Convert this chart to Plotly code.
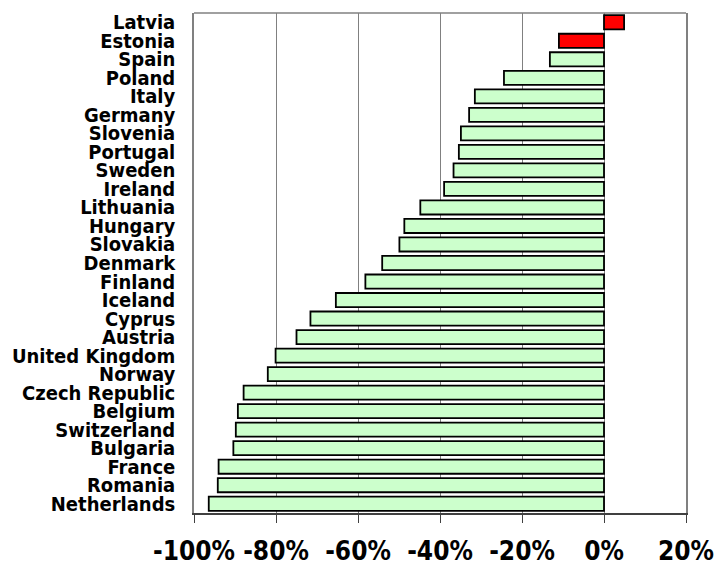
import plotly.graph_objects as go

# Change in value per country, top to bottom
countries = [
    "Latvia", "Estonia", "Spain", "Poland", "Italy", "Germany", "Slovenia",
    "Portugal", "Sweden", "Ireland", "Lithuania", "Hungary", "Slovakia",
    "Denmark", "Finland", "Iceland", "Cyprus", "Austria", "United Kingdom",
    "Norway", "Czech Republic", "Belgium", "Switzerland", "Bulgaria",
    "France", "Romania", "Netherlands",
]
changes = [
    4.9, -11.0, -13.2, -24.4, -31.5, -32.9, -34.9,
    -35.4, -36.7, -39.0, -44.8, -48.7, -49.9,
    -54.1, -58.2, -65.4, -71.6, -75.0, -80.1,
    -82.0, -87.9, -89.3, -89.8, -90.4,
    -94.0, -94.2, -96.4,
]
highlighted = ["Latvia", "Estonia"]

x_ticks = [-100, -80, -60, -40, -20, 0, 20]
x_tick_text = ["-100%", "-80%", "-60%", "-40%", "-20%", "0%", "20%"]

bar_colors = ["#FF0000" if c in highlighted else "#CCFFCC" for c in countries]

font_family = "DejaVu Sans Condensed, DejaVu Sans, sans-serif"

fig = go.Figure(
    go.Bar(
        x=changes,
        y=countries,
        orientation="h",
        marker=dict(color=bar_colors, line=dict(color="#000000", width=1.8)),
        hoverinfo="x+y",
    )
)

fig.update_layout(
    width=717,
    height=562,
    margin=dict(l=194, r=31, t=13, b=49),
    paper_bgcolor="white",
    plot_bgcolor="white",
    bargap=0.24,
    showlegend=False,
    shapes=[
        dict(type="line", xref="paper", yref="paper", x0=0, x1=1, y0=1, y1=1,
             line=dict(color="#808080", width=1.5), layer="above"),
    ],
)

fig.update_xaxes(
    range=[-100, 20],
    tickmode="array",
    tickvals=x_ticks,
    ticktext=x_tick_text,
    showgrid=True,
    gridcolor="#808080",
    gridwidth=1,
    zeroline=False,
    showline=True,
    linecolor="#404040",
    linewidth=1.5,
    ticks="outside",
    ticklen=8,
    tickcolor="#404040",
    ticklabelstandoff=6,
    tickfont=dict(family=font_family, size=26, color="#000000", weight="bold"),
    automargin=False,
    fixedrange=True,
)

fig.update_yaxes(
    categoryorder="array",
    categoryarray=countries,
    tickmode="array",
    tickvals=countries,
    ticktext=countries,
    autorange="reversed",
    showgrid=False,
    zeroline=False,
    showline=True,
    mirror=True,
    linecolor="#808080",
    linewidth=1.5,
    ticks="",
    ticklabelstandoff=13,
    tickfont=dict(family=font_family, size=20, color="#000000", weight="bold"),
    automargin=False,
    fixedrange=True,
)

fig.write_html("out.html")
